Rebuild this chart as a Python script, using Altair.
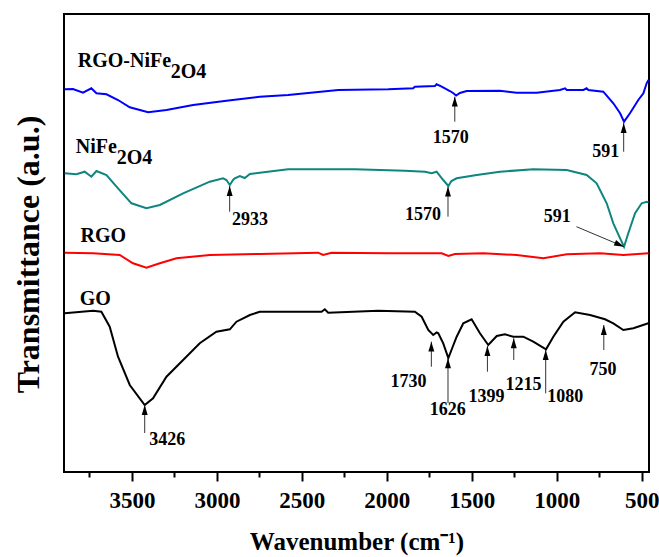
import altair as alt
import pandas as pd

FONT = "Liberation Serif"

# ---- spectra (wavenumber, transmittance a.u.) ----
wn_rgo_nfo = [3896, 3847, 3788, 3739, 3709, 3650, 3582, 3513, 3405, 3297, 3140, 2944, 2748, 2581, 2286,
              1992, 1845, 1835, 1717, 1707, 1677, 1629, 1610, 1592, 1570, 1530, 1334, 1236, 1118, 981,
              951, 941, 843, 824, 814, 726, 667, 627, 604, 569, 520, 490, 471, 460]
t_rgo_nfo = [382.7, 383, 379.3, 383.7, 378.7, 377.7, 372, 364.7, 359.7, 362, 367, 371.3, 375.3, 377, 382,
             382.7, 383.7, 385.3, 386, 387.7, 385.3, 381, 379, 376.5, 379, 381, 381.3, 379.3, 379.3, 382,
             383.7, 382, 382, 383.7, 382, 380.3, 368.7, 358.7, 350.3, 358.7, 372, 378.7, 388.7, 392]

wn_nfo = [3896, 3827, 3778, 3739, 3709, 3650, 3582, 3503, 3415, 3336, 3199, 3042, 2964, 2944, 2924, 2905,
          2895, 2865, 2836, 2806, 2748, 2581, 2188, 1894, 1776, 1736, 1707, 1668, 1638, 1620, 1589, 1471,
          1334, 1138, 941, 824, 765, 706, 667, 627, 604, 579, 539, 500, 471, 460]
t_nfo = [298.7, 297.7, 300.3, 295.3, 301, 297, 283.7, 268.7, 263.7, 267, 278.7, 290.3, 293.7, 292, 287, 292,
         293.7, 296, 294, 298, 299.3, 302.7, 302.7, 301.3, 300.3, 298.7, 300.3, 292, 286, 291, 293.7, 297,
         300.3, 302.7, 302, 297, 288.7, 268.7, 248.7, 233.7, 225.3, 238.7, 258.7, 268.7, 270.3, 269.5]

wn_rgo = [3896, 3729, 3572, 3494, 3415, 3336, 3238, 3042, 2748, 2404, 2375, 2325, 1992, 1677, 1638, 1599,
          1432, 1236, 1079, 941, 745, 608, 460]
t_rgo = [219.3, 218.7, 217, 208.7, 204.3, 208.7, 213.7, 217, 218, 219.3, 217, 219.3, 218.7, 218.7, 216, 218,
         218.7, 217, 213.7, 217.7, 218.7, 217, 218.7]

wn_go = [3896, 3729, 3680, 3631, 3582, 3513, 3425, 3376, 3297, 3199, 3101, 3003, 2924, 2885, 2806, 2748,
         2384, 2365, 2345, 2051, 1835, 1795, 1756, 1727, 1707, 1697, 1668, 1638, 1615, 1589, 1550, 1501,
         1452, 1403, 1353, 1305, 1256, 1197, 1138, 1063, 1020, 961, 892, 804, 716, 667, 608, 549, 461]
t_go = [158.7, 161.3, 160.3, 145.3, 115.3, 87, 67, 73.7, 95.3, 112, 128.7, 140.3, 142.7, 150.3, 157, 160.3,
        160.3, 162.7, 159.3, 161.3, 160.3, 155.3, 142, 137, 139.5, 138.7, 128.7, 114, 124, 135.3, 148.7, 152.7,
        138.7, 127, 136, 137.7, 135.3, 135.3, 130.3, 122.7, 135.3, 150.3, 159.7, 157, 152.7, 148.7, 142, 143.7,
        148.7]

series_names = ["RGO-NiFe2O4", "NiFe2O4", "RGO", "GO"]
series_colors = ["#0000FF", "#0F8580", "#FF0000", "#000000"]

# ---- peak annotations: arrow x, tip, tail, label text, label position ----
ann_x = [1600, 606, 2925, 1640, 3425, 1738, 1640, 1408, 1253, 1065, 723]
ann_tip = [375.3, 349, 286, 285.3, 67, 130.3, 113.7, 126, 133.7, 122, 147]
ann_tail = [350.3, 320.3, 260.3, 255.3, 39, 105.3, 69, 100.3, 112, 78.7, 122]
lab_text = ["1570", "591", "2933", "1570", "3426", "1730", "1626", "1399", "1215", "1080", "750", "591"]
lab_x = [1624, 712, 2805, 1787, 3293, 1873, 1642, 1414, 1196, 950, 728, 997]
lab_y = [334.5, 320.3, 252, 257, 32, 90.3, 62, 75.3, 87, 75.3, 102, 255.3]

# diagonal arrow for the NiFe2O4 591 band
diag_x, diag_x2 = [884], [604]
diag_y, diag_y2 = [245.3], [225.3]

# series name labels
name_main = ["RGO-NiFe", "NiFe", "RGO", "GO"]
name_x = [3819, 3831, 3803, 3808]
name_y = [405, 319, 230.3, 167]
sub_y = [394, 308]

rows = []
for n, ws, ts in zip(series_names, [wn_rgo_nfo, wn_nfo, wn_rgo, wn_go], [t_rgo_nfo, t_nfo, t_rgo, t_go]):
    rows += [{"series": n, "wn": w, "t": t} for w, t in zip(ws, ts)]
spec = pd.DataFrame(rows)

arrows = pd.DataFrame({"wn": ann_x, "tip": ann_tip, "tail": ann_tail})
labels = pd.DataFrame({"wn": lab_x, "t": lab_y, "text": lab_text})
diag = pd.DataFrame({"wn": diag_x, "wn2": diag_x2, "t": diag_y, "t2": diag_y2})
names = pd.DataFrame({"wn": name_x, "t": name_y, "text": name_main})
subs1 = pd.DataFrame({"wn": [name_x[0]], "t": [sub_y[0]], "text": ["2O4"]})
subs2 = pd.DataFrame({"wn": [name_x[1]], "t": [sub_y[1]], "text": ["2O4"]})

xs = alt.Scale(domain=[3900, 457], nice=False, zero=False)
ys = alt.Scale(domain=[0, 458], nice=False, zero=False)

x_axis = alt.Axis(
    values=list(range(500, 3900, 250)),
    labelExpr="datum.value % 500 === 0 ? datum.value : ''",
    tickSize={"condition": {"test": "datum.value % 500 === 0", "value": 9}, "value": 5},
    tickColor="black", tickWidth=2, domain=False, grid=False,
    labelFont=FONT, labelFontWeight="bold", labelFontSize=23, labelColor="black", labelPadding=8,
    title="Wavenumber (cm⁻¹)", titleFont=FONT, titleFontWeight="bold", titleFontSize=25,
    titleColor="black", titlePadding=17,
)
y_axis = alt.Axis(
    labels=False, ticks=False, domain=False, grid=False,
    title="Transmittance (a.u.)", titleFont=FONT, titleFontWeight="bold", titleFontSize=32,
    titleColor="black", titlePadding=19, titleY=240,
)

lines = alt.Chart(spec).mark_line(strokeWidth=2).encode(
    x=alt.X("wn:Q", scale=xs, axis=x_axis),
    y=alt.Y("t:Q", scale=ys, axis=y_axis),
    color=alt.Color("series:N", scale=alt.Scale(domain=series_names, range=series_colors), legend=None),
    detail="series:N",
)

shafts = alt.Chart(arrows).mark_rule(color="#333333", strokeWidth=1).encode(
    x=alt.X("wn:Q", scale=xs), y=alt.Y("tip:Q", scale=ys), y2="tail:Q")

head_shape = "M0,0L-0.42,1.4L0.42,1.4Z"
heads = alt.Chart(arrows).mark_point(shape=head_shape, filled=True, size=200, color="black", opacity=1).encode(
    x=alt.X("wn:Q", scale=xs), y=alt.Y("tip:Q", scale=ys))

diag_line = alt.Chart(diag).mark_rule(color="#333333", strokeWidth=1).encode(
    x=alt.X("wn:Q", scale=xs), x2="wn2:Q", y=alt.Y("t:Q", scale=ys), y2="t2:Q")
diag_head = alt.Chart(diag).mark_point(shape=head_shape, filled=True, size=200, color="black",
                                       opacity=1, angle=113).encode(
    x=alt.X("wn2:Q", scale=xs), y=alt.Y("t2:Q", scale=ys))

peak_text = alt.Chart(labels).mark_text(font=FONT, fontWeight="bold", fontSize=18, color="black",
                                        align="center", baseline="middle").encode(
    x=alt.X("wn:Q", scale=xs), y=alt.Y("t:Q", scale=ys), text="text:N")

name_text = alt.Chart(names).mark_text(font=FONT, fontWeight="bold", fontSize=20, color="black",
                                       align="left", baseline="alphabetic").encode(
    x=alt.X("wn:Q", scale=xs), y=alt.Y("t:Q", scale=ys), text="text:N")
sub_text1 = alt.Chart(subs1).mark_text(font=FONT, fontWeight="bold", fontSize=20, color="black",
                                       align="left", baseline="alphabetic", dx=93).encode(
    x=alt.X("wn:Q", scale=xs), y=alt.Y("t:Q", scale=ys), text="text:N")
sub_text2 = alt.Chart(subs2).mark_text(font=FONT, fontWeight="bold", fontSize=20, color="black",
                                       align="left", baseline="alphabetic", dx=41).encode(
    x=alt.X("wn:Q", scale=xs), y=alt.Y("t:Q", scale=ys), text="text:N")

chart = alt.layer(
    lines, shafts, heads, diag_line, diag_head, peak_text, name_text, sub_text1, sub_text2
).properties(
    width=585, height=458,
    padding={"left": 64, "top": 14, "right": 10, "bottom": 85},
    autosize=alt.AutoSizeParams(type="none"),
    background="white",
).configure_view(stroke="black", strokeWidth=2)

chart.save("out.html", embed_options={"renderer": "svg", "actions": False})
